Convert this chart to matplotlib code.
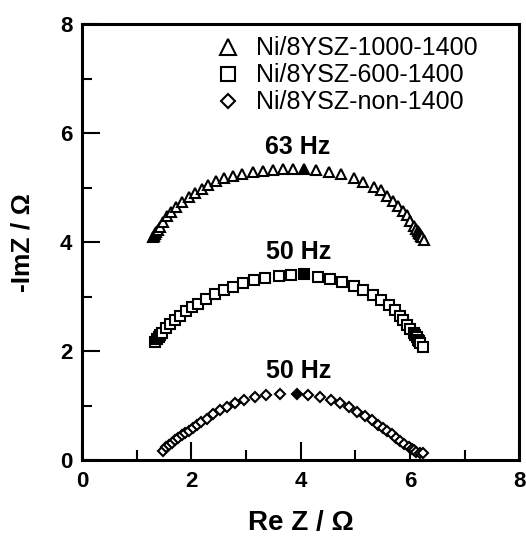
import matplotlib
matplotlib.use('Agg')
import matplotlib.pyplot as plt
from matplotlib.ticker import MultipleLocator

plt.rcParams['font.family'] = ['Liberation Sans', 'DejaVu Sans']

# ── Datos (Re Z, -Im Z) en ohm ──
labels = ['Ni/8YSZ-1000-1400', 'Ni/8YSZ-600-1400', 'Ni/8YSZ-non-1400']
freq_labels = ['63 Hz', '50 Hz', '50 Hz']

tri_x = [1.30, 1.32, 1.34, 1.36, 1.39, 1.42, 1.48, 1.55, 1.63, 1.72, 1.83, 1.95, 2.07,
         2.19, 2.31, 2.45, 2.60, 2.76, 2.92, 3.12, 3.31, 3.49, 3.68, 3.86, 4.29,
         4.52, 4.74, 4.97, 5.15, 5.34, 5.48, 5.59, 5.70, 5.79, 5.87, 5.95, 6.01,
         6.07, 6.11, 6.14, 6.16, 6.18, 6.20, 6.22, 6.26]
tri_y = [4.09, 4.12, 4.15, 4.18, 4.22, 4.27, 4.36, 4.47, 4.56, 4.65, 4.74, 4.82, 4.90,
         4.98, 5.05, 5.12, 5.17, 5.22, 5.25, 5.28, 5.31, 5.33, 5.34, 5.35, 5.32,
         5.29, 5.25, 5.18, 5.10, 5.02, 4.95, 4.85, 4.76, 4.67, 4.58, 4.49, 4.39,
         4.30, 4.24, 4.20, 4.17, 4.14, 4.11, 4.09, 4.04]

sq_x = [1.34, 1.37, 1.40, 1.43, 1.46, 1.53, 1.61, 1.70, 1.79, 1.90, 2.01, 2.13, 2.27,
        2.44, 2.59, 2.76, 2.94, 3.14, 3.35, 3.60, 3.83, 4.31, 4.53, 4.76, 4.97,
        5.15, 5.32, 5.47, 5.61, 5.73, 5.81, 5.88, 5.95, 6.01, 6.07, 6.10, 6.13,
        6.15, 6.17, 6.19, 6.24]
sq_y = [2.17, 2.22, 2.26, 2.30, 2.34, 2.42, 2.49, 2.57, 2.65, 2.73, 2.80, 2.87, 2.95,
        3.05, 3.12, 3.18, 3.24, 3.30, 3.35, 3.38, 3.39, 3.36, 3.32, 3.26, 3.20,
        3.12, 3.03, 2.94, 2.85, 2.75, 2.65, 2.57, 2.48, 2.40, 2.34, 2.29, 2.25,
        2.21, 2.18, 2.15, 2.08]

dia_x = [1.49, 1.54, 1.59, 1.64, 1.70, 1.76, 1.83, 1.89, 1.95, 2.03, 2.10, 2.18, 2.28,
         2.40, 2.52, 2.65, 2.80, 2.97, 3.16, 3.37, 3.62, 4.14, 4.35, 4.55, 4.73,
         4.89, 5.04, 5.18, 5.31, 5.41, 5.51, 5.59, 5.67, 5.75, 5.82, 5.90, 5.98,
         6.03, 6.07, 6.12, 6.18, 6.24]
dia_y = [0.17, 0.23, 0.28, 0.32, 0.36, 0.41, 0.45, 0.50, 0.54, 0.59, 0.64, 0.69, 0.76,
         0.84, 0.91, 0.98, 1.05, 1.11, 1.16, 1.20, 1.22, 1.19, 1.15, 1.10, 1.04,
         0.97, 0.89, 0.81, 0.73, 0.65, 0.59, 0.53, 0.47, 0.41, 0.35, 0.29, 0.24,
         0.21, 0.18, 0.15, 0.13, 0.13]

# puntos de frecuencia marcados (rellenos)
peak_x = [4.07, 4.07, 3.94]
peak_y = [5.34, 3.41, 1.22]

series = [(tri_x, tri_y, '^', 7.5), (sq_x, sq_y, 's', 7.0), (dia_x, dia_y, 'D', 5.0)]

fig = plt.figure(figsize=(5.26, 5.38), dpi=100)
ax = fig.add_axes([0.156, 0.145, 0.831, 0.81])

handles = []
for (xs, ys, mk, ms), lab in zip(series, labels):
    h, = ax.plot(xs, ys, linestyle='none', marker=mk, ms=ms, mfc='white',
                 mec='black', mew=1.5, label=lab)
    handles.append(h)

# etiquetas de frecuencia
lab_x = [3.94, 3.96, 3.96]
lab_y = [5.74, 3.82, 1.64]
for px, py, (xs, ys, mk, ms), ft, tx, ty in zip(peak_x, peak_y, series, freq_labels, lab_x, lab_y):
    ax.plot([px], [py], linestyle='none', marker=mk, ms=ms, mfc='black',
            mec='black', mew=1.5)
    ax.text(tx, ty, ft, fontsize=18, fontweight='bold', ha='center', va='center')

ax.set_xlim(0, 8)
ax.set_ylim(0, 8)
ax.xaxis.set_major_locator(MultipleLocator(2))
ax.xaxis.set_minor_locator(MultipleLocator(1))
ax.yaxis.set_major_locator(MultipleLocator(2))
ax.yaxis.set_minor_locator(MultipleLocator(1))
ax.tick_params(which='both', direction='in', top=False, right=False, width=1.5,
               labelsize=16)
ax.tick_params(which='major', length=13)
ax.tick_params(axis='x', which='major', pad=8)
ax.tick_params(axis='y', which='major', pad=7)
ax.tick_params(which='minor', length=7)
for lbl in ax.get_xticklabels() + ax.get_yticklabels():
    lbl.set_fontweight('bold')
for sp in ax.spines.values():
    sp.set_linewidth(2.2)

ax.set_xlabel('Re Z / Ω', fontsize=20, fontweight='bold', labelpad=13)
ax.set_ylabel('-ImZ / Ω', fontsize=19, fontweight='bold', labelpad=18)

ax.legend(handles=handles, loc='upper left', bbox_to_anchor=(0.283, 0.995),
          frameon=False, fontsize=18, markerscale=1.5, handlelength=1.0,
          handletextpad=0.6, labelspacing=0.12, borderaxespad=0)

plt.savefig('out.png', dpi=100)
